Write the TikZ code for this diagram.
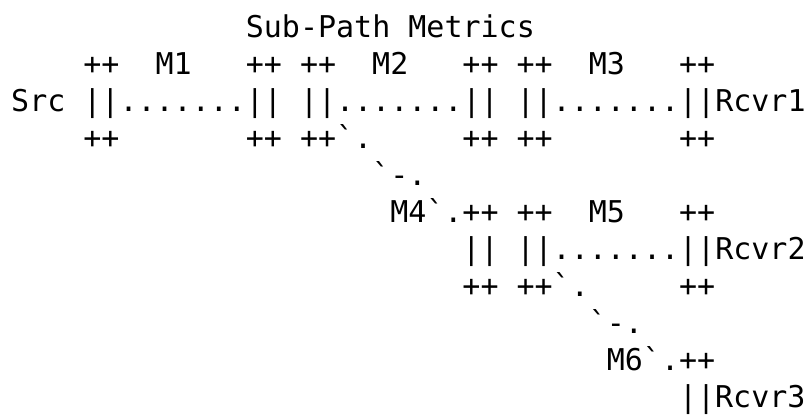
\documentclass[tikz,border=0pt]{standalone}
\usepackage{fontspec}
\setmonofont{DejaVu Sans Mono}
\usetikzlibrary{positioning}
\tikzstyle{txt}=[anchor=base west, inner sep=0, font=\ttfamily\fontsize{30}{36}\selectfont]
\begin{document}
\begin{tikzpicture}
        \useasboundingbox (0pt,0pt) rectangle (807pt,-415pt);
        \begin{scope}[x=18.05pt, y=-37pt, shift={(11pt,-37pt)}]
        % title
        \node[txt] (title) at (13,0) {Sub-Path Metrics};
        % main path Src -> Rcvr1
        \node[txt] (ta1) at (4,1) {++};
        \node[txt] (m1) at (8,1) {M1};
        \node[txt] (tb1) at (13,1) {++};
        \node[txt] (ta2) at (16,1) {++};
        \node[txt] (m2) at (20,1) {M2};
        \node[txt] (tb2) at (25,1) {++};
        \node[txt] (ta3) at (28,1) {++};
        \node[txt] (m3) at (32,1) {M3};
        \node[txt] (tb3) at (37,1) {++};
        \node[txt] (src) at (0,2) {Src};
        \node[txt] (seg1) at (4,2) {||.......||};
        \node[txt] (seg2) at (16,2) {||.......||};
        \node[txt] (seg3) at (28,2) {||.......||Rcvr1};
        \node[txt] (ba1) at (4,3) {++};
        \node[txt] (bb1) at (13,3) {++};
        \node[txt] (ba2) at (16,3) {++`.};
        \node[txt] (bb2) at (25,3) {++};
        \node[txt] (ba3) at (28,3) {++};
        \node[txt] (bb3) at (37,3) {++};
        % branch to Rcvr2
        \node[txt] (br4) at (20,4) {`-.};
        \node[txt] (m4) at (21,5) {M4`.++};
        \node[txt] (ta5) at (28,5) {++};
        \node[txt] (m5) at (32,5) {M5};
        \node[txt] (tb5) at (37,5) {++};
        \node[txt] (seg4) at (25,6) {||};
        \node[txt] (seg5) at (28,6) {||.......||Rcvr2};
        \node[txt] (bb4) at (25,7) {++};
        \node[txt] (ba5) at (28,7) {++`.};
        \node[txt] (bb5) at (37,7) {++};
        % branch to Rcvr3
        \node[txt] (br6) at (32,8) {`-.};
        \node[txt] (m6) at (33,9) {M6`.++};
        \node[txt] (seg6) at (37,10) {||Rcvr3};
        \end{scope}
\end{tikzpicture}
\end{document}
